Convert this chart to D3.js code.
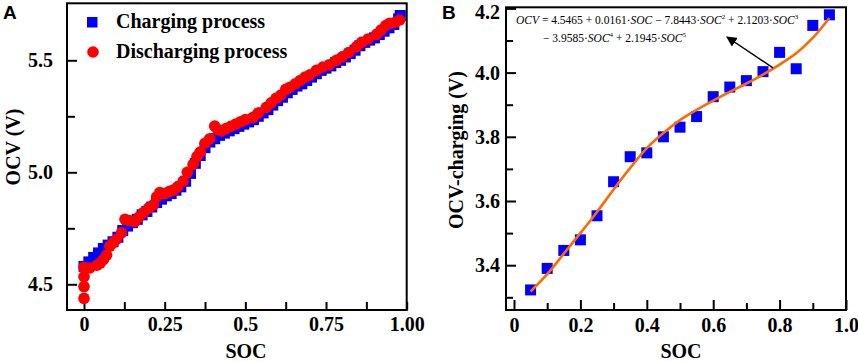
<!DOCTYPE html>
<html>
<head>
<meta charset="utf-8">
<script src="https://cdn.jsdelivr.net/npm/d3@7"></script>
<style>
body { margin: 0; background: #fff; }
text { font-family: "Liberation Serif", "Times New Roman", serif; font-weight: bold; }
</style>
</head>
<body>
<script>
// panel A: charging / discharging OCV vs SOC
const socChg = [0, 0.015, 0.03, 0.045, 0.06, 0.075, 0.09, 0.105, 0.12, 0.135, 0.15, 0.165, 0.18, 0.195, 0.21, 0.225, 0.24, 0.255, 0.27, 0.285, 0.30, 0.315, 0.33, 0.345, 0.36, 0.375, 0.39, 0.405, 0.42, 0.435, 0.45, 0.465, 0.48, 0.495, 0.51, 0.525, 0.54, 0.555, 0.57, 0.585, 0.60, 0.615, 0.63, 0.645, 0.66, 0.675, 0.69, 0.705, 0.72, 0.735, 0.75, 0.765, 0.78, 0.795, 0.81, 0.825, 0.84, 0.855, 0.87, 0.885, 0.90, 0.915, 0.93, 0.945, 0.96, 0.975, 0.98];
const ocvChg = [4.58, 4.60, 4.62, 4.64, 4.66, 4.675, 4.69, 4.71, 4.74, 4.76, 4.775, 4.79, 4.81, 4.825, 4.845, 4.865, 4.88, 4.895, 4.905, 4.92, 4.935, 4.96, 4.995, 5.04, 5.075, 5.11, 5.135, 5.15, 5.165, 5.175, 5.185, 5.195, 5.205, 5.215, 5.225, 5.235, 5.25, 5.265, 5.28, 5.30, 5.32, 5.335, 5.355, 5.37, 5.385, 5.395, 5.41, 5.425, 5.44, 5.455, 5.465, 5.475, 5.49, 5.50, 5.515, 5.53, 5.545, 5.565, 5.58, 5.59, 5.60, 5.615, 5.63, 5.645, 5.66, 5.685, 5.70];

const socDis = [0, 0, 0, 0, 0.018, 0.04, 0.05, 0.06, 0.07, 0.08, 0.09, 0.10, 0.116, 0.127, 0.14, 0.158, 0.17, 0.184, 0.20, 0.215, 0.225, 0.235, 0.25, 0.265, 0.277, 0.29, 0.307, 0.32, 0.338, 0.35, 0.36, 0.375, 0.39, 0.405, 0.415, 0.426, 0.44, 0.455, 0.47, 0.485, 0.50, 0.524, 0.54, 0.565, 0.58, 0.595, 0.61, 0.625, 0.638, 0.655, 0.67, 0.685, 0.70, 0.72, 0.74, 0.76, 0.782, 0.80, 0.82, 0.844, 0.86, 0.88, 0.906, 0.92, 0.935, 0.947, 0.965, 0.978];
const ocvDis = [4.437, 4.49, 4.534, 4.576, 4.573, 4.585, 4.594, 4.61, 4.63, 4.67, 4.685, 4.70, 4.73, 4.79, 4.785, 4.78, 4.80, 4.82, 4.84, 4.855, 4.89, 4.91, 4.905, 4.915, 4.92, 4.935, 4.96, 5.00, 5.035, 5.07, 5.09, 5.13, 5.15, 5.206, 5.19, 5.185, 5.195, 5.205, 5.215, 5.225, 5.235, 5.245, 5.265, 5.29, 5.31, 5.33, 5.345, 5.37, 5.38, 5.395, 5.41, 5.425, 5.435, 5.455, 5.47, 5.48, 5.50, 5.515, 5.535, 5.56, 5.58, 5.595, 5.615, 5.635, 5.655, 5.665, 5.67, 5.68];

const ticksAx = [0, 0.25, 0.5, 0.75, 1.0];
const labelsAx = ['0', '0.25', '0.5', '0.75', '1.00'];
const minorAx = [0.125, 0.375, 0.625, 0.875];
const ticksAy = [4.5, 5.0, 5.5];
const minorAy = [4.75, 5.25];

// panel B: charging OCV points and fitted curve
const socB = [0.05, 0.10, 0.15, 0.20, 0.25, 0.30, 0.35, 0.40, 0.45, 0.50, 0.55, 0.60, 0.65, 0.70, 0.75, 0.80, 0.85, 0.90, 0.95];
const ocvB = [3.323, 3.39, 3.446, 3.479, 3.554, 3.66, 3.738, 3.75, 3.80, 3.83, 3.863, 3.925, 3.955, 3.975, 4.003, 4.063, 4.012, 4.147, 4.18];
const ocvFit = [3.318, 3.372, 3.436, 3.50, 3.566, 3.636, 3.703, 3.765, 3.812, 3.852, 3.884, 3.913, 3.94, 3.966, 3.994, 4.025, 4.06, 4.108, 4.17];

const ticksBx = [0, 0.2, 0.4, 0.6, 0.8, 1.0];
const labelsBx = ['0', '0.2', '0.4', '0.6', '0.8', '1.0'];
const minorBx = [0.1, 0.3, 0.5, 0.7, 0.9];
const ticksBy = [3.4, 3.6, 3.8, 4.0, 4.2];
const minorBy = [3.3, 3.5, 3.7, 3.9, 4.1];

const svg = d3.select('body').append('svg').attr('width', 858).attr('height', 362);

// ---------- panel A ----------
const xA = d3.scaleLinear().domain([-0.0527, 1.0]).range([67, 406.7]);
const yA = d3.scaleLinear().domain([4.5, 5.5]).range([284.3, 60.3]);
const yAmin = yA.invert(310), yAmax = yA.invert(3.3);

const gA = svg.append('g');

gA.append('g').attr('transform', 'translate(0,310)')
  .call(d3.axisBottom(xA).tickValues(ticksAx).tickSize(-8).tickPadding(7)
    .tickFormat((d, i) => labelsAx[i]));
gA.append('g').attr('transform', 'translate(0,310)')
  .call(d3.axisBottom(xA).tickValues(minorAx).tickSize(-8).tickFormat(''));
gA.append('g').attr('transform', 'translate(67,0)')
  .call(d3.axisLeft(yA).tickValues(ticksAy).tickSize(-10).tickPadding(14).tickFormat(d3.format('.1f')));
gA.append('g').attr('transform', 'translate(67,0)')
  .call(d3.axisLeft(yA).tickValues(minorAy).tickSize(-8).tickFormat(''));

gA.selectAll('.domain').remove();

gA.selectAll('.charge').data(socChg).enter().append('rect')
  .attr('x', (d) => xA(d) - 5.5)
  .attr('y', (d, i) => yA(ocvChg[i]) - 5.5)
  .attr('width', 11).attr('height', 11)
  .style('fill', '#0000ff');

gA.selectAll('.discharge').data(socDis).enter().append('circle')
  .attr('cx', (d) => xA(d))
  .attr('cy', (d, i) => yA(ocvDis[i]))
  .attr('r', 5.8)
  .style('fill', '#ff0000');

gA.append('rect').attr('x', xA(-0.0527)).attr('y', yA(yAmax))
  .attr('width', xA(1.0) - xA(-0.0527)).attr('height', yA(yAmin) - yA(yAmax))
  .style('fill', 'none').style('stroke', '#000').style('stroke-width', 2);

// legend
gA.append('rect').attr('x', 87).attr('y', 17).attr('width', 10.5).attr('height', 10.5).style('fill', '#0000ff');
gA.append('text').attr('x', 116).attr('y', 28).style('font-size', '20px').text('Charging process');
gA.append('circle').attr('cx', 93).attr('cy', 52).attr('r', 5.8).style('fill', '#ff0000');
gA.append('text').attr('x', 116).attr('y', 58).style('font-size', '20px').text('Discharging process');

gA.append('text').attr('x', 246).attr('y', 358).attr('text-anchor', 'middle').style('font-size', '20px').text('SOC');
gA.append('text').attr('transform', 'translate(20,147) rotate(-90)').attr('text-anchor', 'middle')
  .style('font-size', '20px').text('OCV (V)');
gA.append('text').attr('x', 3).attr('y', 19).style('font-family', '"Liberation Sans", Arial, sans-serif')
  .style('font-size', '19px').text('A');

// ---------- panel B ----------
const xB = d3.scaleLinear().domain([0, 1.0]).range([514, 846]);
const yB = d3.scaleLinear().domain([3.3, 4.2]).range([297.3, 8.4]);
const xBmin = xB.invert(506), yBmin = yB.invert(310), yBmax = yB.invert(7.3);

const gB = svg.append('g');

gB.append('g').attr('transform', 'translate(0,310)')
  .call(d3.axisBottom(xB).tickValues(ticksBx).tickSize(-10).tickPadding(8)
    .tickFormat((d, i) => labelsBx[i]));
gB.append('g').attr('transform', 'translate(0,310)')
  .call(d3.axisBottom(xB).tickValues(minorBx).tickSize(-7).tickFormat(''));
const yAxisB = gB.append('g').attr('transform', 'translate(506,0)')
  .call(d3.axisLeft(yB).tickValues(ticksBy).tickSize(-10).tickPadding(6).tickFormat(d3.format('.1f')));
gB.append('g').attr('transform', 'translate(506,0)')
  .call(d3.axisLeft(yB).tickValues(minorBy).tickSize(-7).tickFormat(''));

// top label sits a little lower so it stays inside the picture
yAxisB.selectAll('.tick text').filter((d) => d === 4.2).attr('y', 3.5);

gB.selectAll('.domain').remove();

gB.selectAll('.pt').data(socB).enter().append('rect')
  .attr('x', (d) => xB(d) - 5.5)
  .attr('y', (d, i) => yB(ocvB[i]) - 5.5)
  .attr('width', 11).attr('height', 11)
  .style('fill', '#0000ff');

const fitLine = d3.line().x((d) => xB(d)).y((d, i) => yB(ocvFit[i])).curve(d3.curveCatmullRom);
gB.append('path').attr('d', fitLine(socB))
  .style('fill', 'none').style('stroke', '#ff6a00').style('stroke-width', 2.6);

gB.append('rect').attr('x', xB(xBmin)).attr('y', yB(yBmax))
  .attr('width', xB(1.0) - xB(xBmin)).attr('height', yB(yBmin) - yB(yBmax))
  .style('fill', 'none').style('stroke', '#000').style('stroke-width', 2);

// equation + arrow
svg.append('defs').append('marker').attr('id', 'head')
  .attr('viewBox', '0 0 10 10').attr('refX', 9).attr('refY', 5)
  .attr('markerWidth', 7).attr('markerHeight', 7).attr('orient', 'auto')
  .append('path').attr('d', 'M0,0L10,5L0,10Z').style('fill', '#000');

gB.append('line').attr('x1', xB(0.78)).attr('y1', yB(4.015)).attr('x2', 727).attr('y2', 37)
  .style('stroke', '#000').style('stroke-width', 1.5).attr('marker-end', 'url(#head)');

const eq1 = gB.append('text').attr('x', 516).attr('y', 24).style('font-size', '11.5px').style('font-weight', 'normal');
eq1.append('tspan').style('font-style', 'italic').text('OCV');
eq1.append('tspan').text(' = 4.5465 + 0.0161·');
eq1.append('tspan').style('font-style', 'italic').text('SOC');
eq1.append('tspan').text(' − 7.8443·');
eq1.append('tspan').style('font-style', 'italic').text('SOC');
eq1.append('tspan').attr('dy', -5).style('font-size', '7px').text('2');
eq1.append('tspan').attr('dy', 5).text(' + 2.1203·');
eq1.append('tspan').style('font-style', 'italic').text('SOC');
eq1.append('tspan').attr('dy', -5).style('font-size', '7px').text('3');

const eq2 = gB.append('text').attr('x', 543).attr('y', 42).style('font-size', '11.5px').style('font-weight', 'normal');
eq2.append('tspan').text('− 3.9585·');
eq2.append('tspan').style('font-style', 'italic').text('SOC');
eq2.append('tspan').attr('dy', -5).style('font-size', '7px').text('4');
eq2.append('tspan').attr('dy', 5).text(' + 2.1945·');
eq2.append('tspan').style('font-style', 'italic').text('SOC');
eq2.append('tspan').attr('dy', -5).style('font-size', '7px').text('5');

gB.append('text').attr('x', 681).attr('y', 358).attr('text-anchor', 'middle').style('font-size', '20px').text('SOC');
gB.append('text').attr('transform', 'translate(463,150) rotate(-90)').attr('text-anchor', 'middle')
  .style('font-size', '20px').text('OCV-charging (V)');
gB.append('text').attr('x', 442).attr('y', 19).style('font-family', '"Liberation Sans", Arial, sans-serif')
  .style('font-size', '19px').text('B');

// tick label / tick line styling
svg.selectAll('.tick text').style('font-size', '20px').style('fill', '#000')
  .style('font-family', '"Liberation Serif", serif').style('font-weight', 'bold');
svg.selectAll('.tick line').style('stroke', '#000').style('stroke-width', 2);
</script>
</body>
</html>
